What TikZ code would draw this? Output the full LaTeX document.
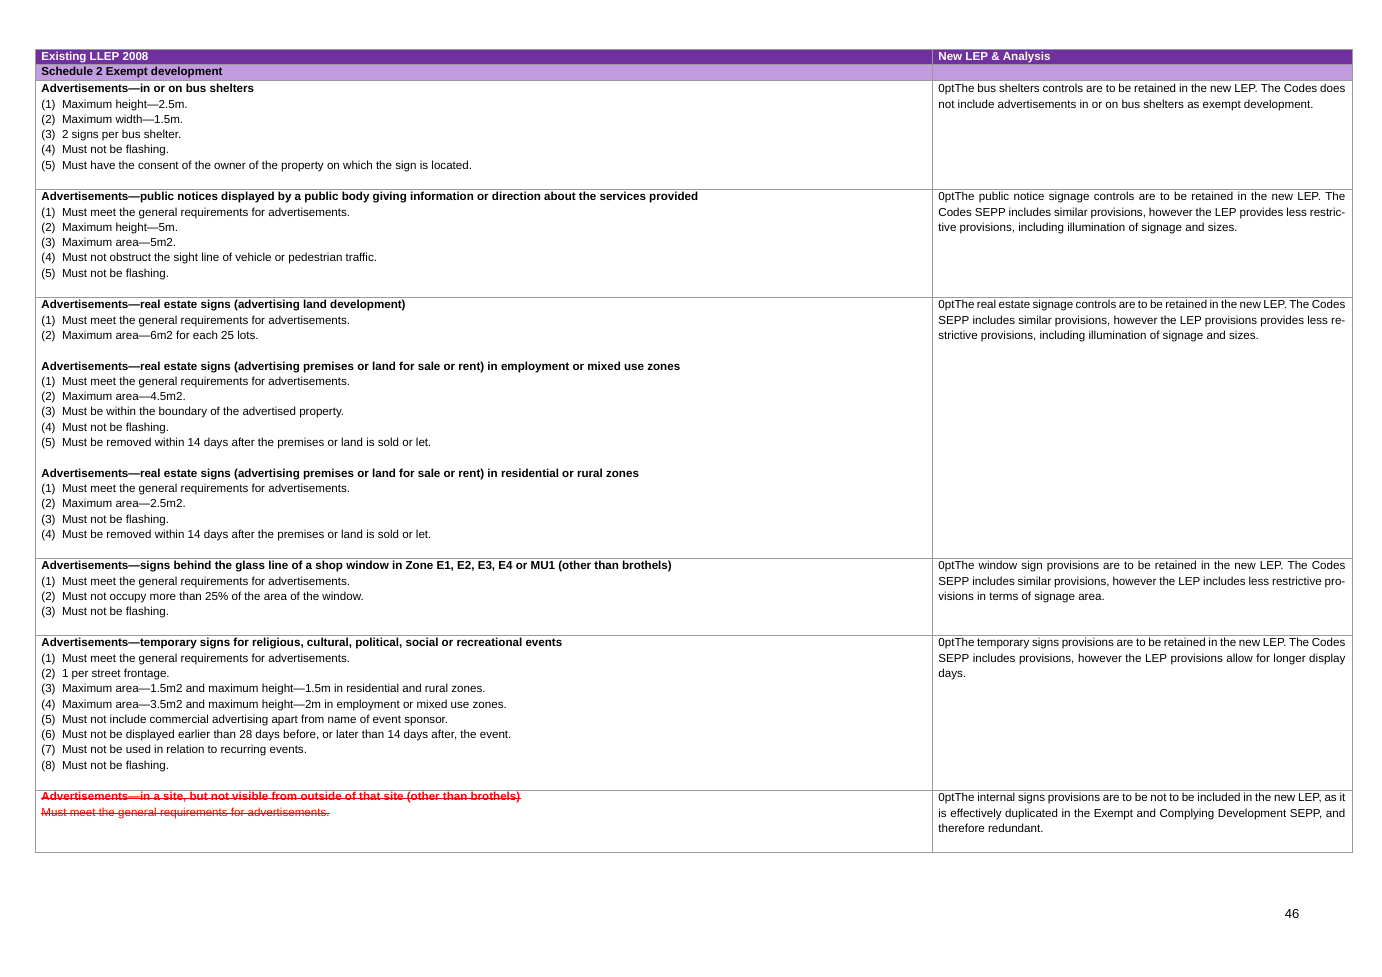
\documentclass[tikz,border=0pt]{standalone}
\usepackage{fontspec}
\setmainfont{Liberation Sans}
\usetikzlibrary{positioning}
\definecolor{headColor}{HTML}{7030A0}
\definecolor{subColor}{HTML}{C39BE0}
\definecolor{ruleColor}{HTML}{9A9A9A}
\definecolor{strikeColor}{HTML}{FF0000}
\tikzset{leftcell/.style={anchor=north west, inner sep=0pt, align=left, font=\fontsize{5.8}{7.65}\selectfont},
	rightcell/.style={anchor=north west, inner sep=0pt, text width=203.5pt, align=justify, font=\fontsize{5.8}{7.65}\selectfont\hyphenpenalty=10000\exhyphenpenalty=10000},
	headtext/.style={anchor=west, inner sep=0pt, font=\fontsize{5.8}{7.65}\selectfont\bfseries},
	struck/.style={anchor=west, inner sep=0pt, text=strikeColor, font=\fontsize{5.8}{7.65}\selectfont},
	gridline/.style={draw=ruleColor, line width=0.5pt}}
\newcommand{\gap}{\\[7.65pt]}
\begin{document}
\begin{tikzpicture}[x=0.5pt, y=-0.5pt]
			\useasboundingbox (0,0) rectangle (1382,977);
			% header bands
			\fill[headColor] (35,50) rectangle (1352,65);
			\fill[subColor] (35,65) rectangle (1352,81);
			\node (head left) [headtext, text=white] at (41,57.5) {Existing LLEP 2008};
			\node (head right) [headtext, text=white] at (938,57.5) {New LEP \& Analysis};
			\node (schedule) [headtext] at (41,73) {Schedule 2 Exempt development};
			
			% grid
			\draw[gridline] (35,50) rectangle (1352,853);
			\draw[gridline] (932,50) -- (932,853);
			\foreach \y in {65,81,190,298,559,636,791}
			\draw[gridline] (35,\y) -- (1352,\y);
			
			% left column
			\node (bus left) [leftcell] at (41,84) {\textbf{Advertisements---in or on bus shelters}\\
				(1)\ \ Maximum height---2.5m.\\
				(2)\ \ Maximum width---1.5m.\\
				(3)\ \ 2 signs per bus shelter.\\
				(4)\ \ Must not be flashing.\\
				(5)\ \ Must have the consent of the owner of the property on which the sign is located.};
			\node (public left) [leftcell] at (41,192) {\textbf{Advertisements---public notices displayed by a public body giving information or direction about the services provided}\\
				(1)\ \ Must meet the general requirements for advertisements.\\
				(2)\ \ Maximum height---5m.\\
				(3)\ \ Maximum area---5m2.\\
				(4)\ \ Must not obstruct the sight line of vehicle or pedestrian traffic.\\
				(5)\ \ Must not be flashing.};
			\node (estate left) [leftcell] at (41,300) {\textbf{Advertisements---real estate signs (advertising land development)}\\
				(1)\ \ Must meet the general requirements for advertisements.\\
				(2)\ \ Maximum area---6m2 for each 25 lots.\gap
				\textbf{Advertisements---real estate signs (advertising premises or land for sale or rent) in employment or mixed use zones}\\
				(1)\ \ Must meet the general requirements for advertisements.\\
				(2)\ \ Maximum area---4.5m2.\\
				(3)\ \ Must be within the boundary of the advertised property.\\
				(4)\ \ Must not be flashing.\\
				(5)\ \ Must be removed within 14 days after the premises or land is sold or let.\gap
				\textbf{Advertisements---real estate signs (advertising premises or land for sale or rent) in residential or rural zones}\\
				(1)\ \ Must meet the general requirements for advertisements.\\
				(2)\ \ Maximum area---2.5m2.\\
				(3)\ \ Must not be flashing.\\
				(4)\ \ Must be removed within 14 days after the premises or land is sold or let.};
			\node (window left) [leftcell] at (41,561) {\textbf{Advertisements---signs behind the glass line of a shop window in Zone E1, E2, E3, E4 or MU1 (other than brothels)}\\
				(1)\ \ Must meet the general requirements for advertisements.\\
				(2)\ \ Must not occupy more than 25\% of the area of the window.\\
				(3)\ \ Must not be flashing.};
			\node (temporary left) [leftcell] at (41,638) {\textbf{Advertisements---temporary signs for religious, cultural, political, social or recreational events}\\
				(1)\ \ Must meet the general requirements for advertisements.\\
				(2)\ \ 1 per street frontage.\\
				(3)\ \ Maximum area---1.5m2 and maximum height---1.5m in residential and rural zones.\\
				(4)\ \ Maximum area---3.5m2 and maximum height---2m in employment or mixed use zones.\\
				(5)\ \ Must not include commercial advertising apart from name of event sponsor.\\
				(6)\ \ Must not be displayed earlier than 28 days before, or later than 14 days after, the event.\\
				(7)\ \ Must not be used in relation to recurring events.\\
				(8)\ \ Must not be flashing.};
			\node (internal head) [struck, font=\fontsize{5.8}{7.65}\selectfont\bfseries] at (41,798) {Advertisements---in a site, but not visible from outside of that site (other than brothels)};
			\node (internal text) [struck] at (41,813.5) {Must meet the general requirements for advertisements.};
			\draw[strikeColor, line width=0.4pt] (internal head.west) -- (internal head.east);
			\draw[strikeColor, line width=0.4pt] (internal text.west) -- (internal text.east);
			
			% right column
			\node (bus right) [rightcell] at (938,84) {The bus shelters controls are to be retained in the new LEP. The Codes does not include advertisements in or on bus shelters as exempt development.};
			\node (public right) [rightcell] at (938,192) {The public notice signage controls are to be retained in the new LEP. The Codes SEPP includes similar provisions, however the LEP provides less restrictive provisions, including illumination of signage and sizes.};
			\node (estate right) [rightcell] at (938,300) {The real estate signage controls are to be retained in the new LEP. The Codes SEPP includes similar provisions, however the LEP provisions provides less restrictive provisions, including illumination of signage and sizes.};
			\node (window right) [rightcell] at (938,561) {The window sign provisions are to be retained in the new LEP. The Codes SEPP includes similar provisions, however the LEP includes less restrictive provisions in terms of signage area.};
			\node (temporary right) [rightcell] at (938,638) {The temporary signs provisions are to be retained in the new LEP. The Codes SEPP includes provisions, however the LEP provisions allow for longer display days.};
			\node (internal right) [rightcell] at (938,793) {The internal signs provisions are to be not to be included in the new LEP, as it is effectively duplicated in the Exempt and Complying Development SEPP, and therefore redundant.};
			
			\node (page) [inner sep=0pt, font=\fontsize{6.5}{7}\selectfont] at (1292,914) {46};
\end{tikzpicture}
\end{document}
